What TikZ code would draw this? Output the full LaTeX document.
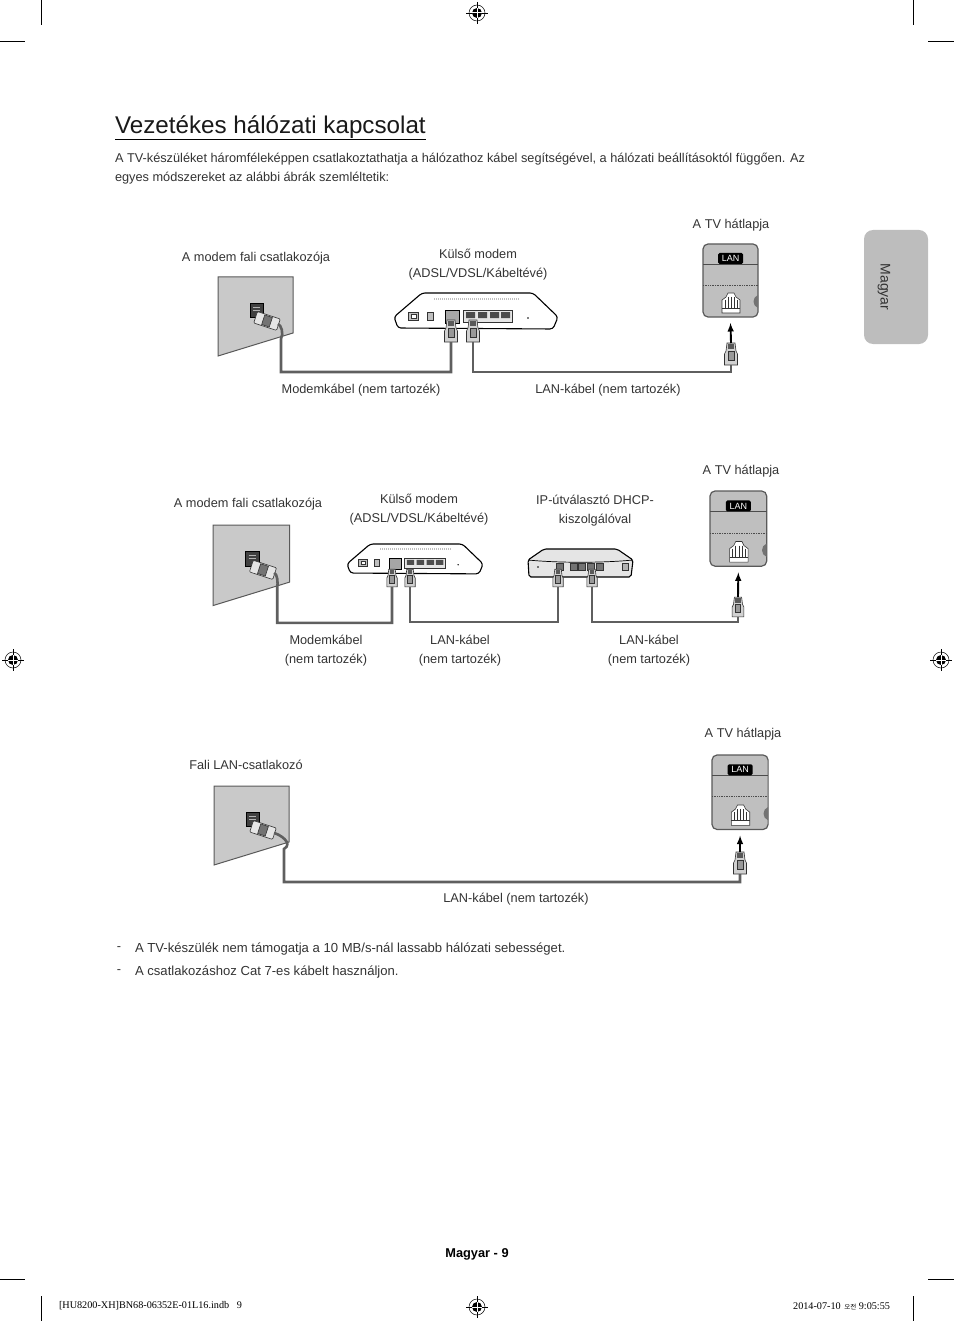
\documentclass[tikz,border=0pt]{standalone}
\usepackage{fontspec}
\setmainfont{Liberation Sans}
\newfontfamily\serifnote{Liberation Serif}
\newfontfamily\cjknote{Noto Sans CJK KR}
\definecolor{inktext}{HTML}{333333}
\definecolor{wallgray}{HTML}{C9C9C9}
\definecolor{cablegray}{HTML}{5F5F5F}
\definecolor{tabgray}{HTML}{BDBDBD}
\definecolor{tvgray}{HTML}{BFBFBF}
\tikzset{
	lbl/.style={inner sep=0pt, outer sep=0pt, text=inktext, align=center, font=\fontsize{12.75}{19}\selectfont},
	notetext/.style={lbl, anchor=west, font=\fontsize{13.1}{19}\selectfont},
	cable/.style={draw=cablegray, line width=2.6pt},
	portline/.style={draw=black!80, line width=0.6pt},
	crop/.style={draw=black, line width=0.8pt},
	pushup/.style={->, >=latex, black, line width=1.9pt},
	% tomada de parede
	wallplate/.pic={
		\draw[draw=black!65, fill=wallgray, line width=1pt] (0,0) -- (75,0) -- (75,56) -- (0,79) -- cycle;
		\draw[fill=black!75, draw=black] (32,26) rectangle (45,40);
		\draw[black!30, line width=0.5pt] (35,30) -- (42,30) (35,33) -- (42,33);
		\draw[portline, fill=black!10, rounded corners=1pt, rotate around={-18:(49,44)}] (37,38) rectangle (61,50);
		\draw[portline, fill=black!55, rotate around={-18:(49,44)}] (45,39) rectangle (53,49);
		\coordinate (-tail) at (60,47);
	},
	% parte de tras da tv
	tvback/.pic={
		\draw[draw=black!65, fill=tvgray, line width=1.2pt, rounded corners=5pt] (0,0) rectangle (55,73);
		\draw[black!70, line width=0.7pt] (0,20) -- (55,20);
		\draw[black!70, line width=0.7pt, densely dotted] (0,41) -- (55,41);
		\node[fill=black, rounded corners=1.5pt, text=white, minimum width=25pt, minimum height=11pt, inner sep=0pt, font=\fontsize{9}{9}\selectfont] (-badge) at (27.5,14.5) {LAN};
		\fill[black!55] (55,51) -- (55,64) .. controls (49,62) and (49,53) .. (55,51);
		\draw[portline, fill=white] (19,62) -- (19,56) -- (23,53) -- (25,49) -- (31,49) -- (33,53) -- (37,56) -- (37,69) -- (19,69) -- cycle;
		\draw[portline] (22,56) -- (22,64) (25,53) -- (25,64) (28,53) -- (28,64) (31,53) -- (31,64) (34,56) -- (34,64) (19,64) -- (37,64);
		\coordinate (-jack) at (27.5,79);
	},
	% conector do cabo
	rjplug/.pic={
		\draw[portline, fill=black!18] (-4,-11) -- (4,-11) -- (5,-3) -- (6.5,0) -- (6.5,11) -- (-6.5,11) -- (-6.5,0) -- (-5,-3) -- cycle;
		\fill[black!65] (-3,-10) rectangle (3,-5);
		\draw[portline, fill=black!40] (-3,-3) rectangle (3,6);
		\coordinate (-head) at (0,-11);
		\coordinate (-tail) at (0,11);
	},
	% modem externo
	modembox/.pic={
		\draw[black, line width=1.1pt, fill=white, rounded corners=3pt] (0,24) -- (28,0) -- (139,0) -- (164,24) -- (159,36) -- (4,35) -- cycle;
		\draw[black!25, line width=2pt, dash pattern=on 1pt off 1pt] (40,6) -- (126,6);
		\draw[portline, fill=black!25] (14,19) rectangle (24,27);
		\draw[portline, fill=white] (17,21) rectangle (22,25);
		\draw[portline, fill=black!25] (33,19) rectangle (39,27);
		\draw[black, line width=0.7pt, fill=black!35] (51,17) rectangle (65,30);
		\draw[portline, fill=black!10] (69,17) rectangle (118,29);
		\fill[black!70] (72,19) rectangle (81,25) (84,19) rectangle (93,25) (96,19) rectangle (105,25) (107,19) rectangle (116,25);
		\fill[black] (134,25) circle (0.9);
	},
	% roteador
	routerbox/.pic={
		\draw[black, line width=1.1pt, fill=black!10, rounded corners=2pt] (0,11) -- (16,0) -- (89,0) -- (105,11) -- (103,28) -- (1,28) -- cycle;
		\draw[black, line width=0.7pt] (0,11) .. controls (30,14) and (75,14) .. (105,11);
		\fill[black] (10,18) circle (0.9);
		\draw[portline, fill=black!55] (28,14) rectangle (35,21);
		\draw[portline, fill=black!55] (42,14) rectangle (49,21) (50,14) rectangle (57,21) (59,14) rectangle (66,21);
		\draw[portline, fill=black!55] (68,14) rectangle (75,21);
		\draw[portline, fill=black!30] (94,14) rectangle (100,21);
	},
	% marca de registro
	regmark/.pic={
		\draw[black, line width=0.5pt] (0,0) circle (8);
		\fill[black] (0,0) circle (5);
		\draw[white, line width=1pt] (-5,0) -- (5,0) (0,-5) -- (0,5);
		\draw[black, line width=0.5pt] (-11,0) -- (-5,0) (5,0) -- (11,0) (0,-11) -- (0,-5) (0,5) -- (0,11);
	}
}
\begin{document}
\begin{tikzpicture}[x=1pt, y=-1pt]
	\useasboundingbox (0,0) rectangle (954,1321);

	%marcas de corte
	\draw[crop] (41,0) -- (41,25) (913,0) -- (913,25) (0,41) -- (25,41) (928,41) -- (954,41);
	\draw[crop] (41,1296) -- (41,1321) (913,1296) -- (913,1321) (0,1279) -- (25,1279) (928,1279) -- (954,1279);
	\pic at (477,13) {regmark};
	\pic at (13,660) {regmark};
	\pic at (941,660) {regmark};
	\pic at (477,1307) {regmark};

	%aba do idioma
	\node[fill=tabgray, rounded corners=9pt, minimum width=64pt, minimum height=114pt, inner sep=0pt] (langtab) at (896,287) {};
	\node[lbl, rotate=-90, font=\fontsize{14}{16}\selectfont] (langname) at (884,287) {Magyar};

	%titulo e texto
	\node[lbl, text=black!90, anchor=base west, font=\fontsize{24.2}{28}\selectfont] (title) at (115,134) {Vezetékes hálózati kapcsolat};
	\draw[black, line width=0.8pt] (title.south west) -- (title.south east);
	\node[lbl, anchor=west, align=left] (intro) at (115,168.5) {A TV-készüléket háromféleképpen csatlakoztathatja a hálózathoz kábel segítségével, a hálózati beállításoktól függően. Az\\egyes módszereket az alábbi ábrák szemléltetik:};

	%rota 1
	\pic (wallA) at (218,277) {wallplate};
	\pic (modemA) at (394,293) {modembox};
	\pic (tvA) at (703,244) {tvback};
	\pic (plugAa) at (451,331) {rjplug};
	\pic (plugAb) at (473,331) {rjplug};
	\pic (plugAc) at (731,354) {rjplug};
	\draw[cable] (wallA-tail) .. controls +(3,1) and +(3,-6) .. ++(3,15) -- ++(0,33) -| (plugAa-tail);
	\draw[cable] (plugAb-tail) -- ++(0,30) -| (plugAc-tail);
	\draw[pushup] (plugAc-head) -- (tvA-jack);
	\node[lbl] (tvlabelA) at (731,225) {A TV hátlapja};
	\node[lbl] (walllabelA) at (256,258) {A modem fali csatlakozója};
	\node[lbl] (modemlabelA) at (478,264.5) {Külső modem\\(ADSL/VDSL/Kábeltévé)};
	\node[lbl] (cablelabelAa) at (361,390) {Modemkábel (nem tartozék)};
	\node[lbl] (cablelabelAb) at (608,390) {LAN-kábel (nem tartozék)};

	%rota 2
	\pic[scale=1.02] (wallB) at (213,525) {wallplate};
	\pic[scale=0.83] (modemB) at (347,544) {modembox};
	\pic (routerB) at (528,549) {routerbox};
	\pic[scale=1.03] (tvB) at (710,491) {tvback};
	\pic[scale=0.8] (plugBa) at (392,578) {rjplug};
	\pic[scale=0.8] (plugBb) at (410,578) {rjplug};
	\pic[scale=0.8] (plugBc) at (558,578) {rjplug};
	\pic[scale=0.8] (plugBd) at (592,578) {rjplug};
	\pic[scale=0.9] (plugBe) at (738,607) {rjplug};
	\draw[cable] (wallB-tail) .. controls +(3,1) and +(1,-6) .. ++(3,15) -- ++(0,35) -| (plugBa-tail);
	\draw[cable] (plugBb-tail) -- ++(0,35) -| (plugBc-tail);
	\draw[cable] (plugBd-tail) -- ++(0,35) -| (plugBe-tail);
	\draw[pushup] (plugBe-head) -- (tvB-jack);
	\node[lbl] (tvlabelB) at (741,471) {A TV hátlapja};
	\node[lbl] (walllabelB) at (248,504) {A modem fali csatlakozója};
	\node[lbl] (modemlabelB) at (419,509.5) {Külső modem\\(ADSL/VDSL/Kábeltévé)};
	\node[lbl] (routerlabelB) at (595,511) {IP-útválasztó DHCP-\\kiszolgálóval};
	\node[lbl] (cablelabelBa) at (326,651) {Modemkábel\\(nem tartozék)};
	\node[lbl] (cablelabelBb) at (460,651) {LAN-kábel\\(nem tartozék)};
	\node[lbl] (cablelabelBc) at (649,651) {LAN-kábel\\(nem tartozék)};

	%rota 3
	\pic (wallC) at (214,786) {wallplate};
	\pic[scale=1.02] (tvC) at (712,755) {tvback};
	\pic (plugCa) at (740,863) {rjplug};
	\draw[cable] (wallC-tail) .. controls +(5,1) and +(10,-6) .. ++(10,16) -- ++(0,33) -| (plugCa-tail);
	\draw[pushup] (plugCa-head) -- (tvC-jack);
	\node[lbl] (tvlabelC) at (743,734) {A TV hátlapja};
	\node[lbl] (walllabelC) at (246,765) {Fali LAN-csatlakozó};
	\node[lbl] (cablelabelC) at (516,899) {LAN-kábel (nem tartozék)};

	%notas
	\node[lbl] (dashA) at (119,949) {-};
	\node[notetext] (noteA) at (135,949) {A TV-készülék nem támogatja a 10 MB/s-nál lassabb hálózati sebességet.};
	\node[lbl] (dashB) at (119,972) {-};
	\node[notetext] (noteB) at (135,972) {A csatlakozáshoz Cat 7-es kábelt használjon.};

	%rodape
	\node[lbl, text=black, font=\bfseries\fontsize{12.8}{15}\selectfont] (pagenum) at (477,1254) {Magyar - 9};
	\node[lbl, text=black, anchor=west, font=\serifnote\fontsize{10.2}{11}\selectfont] (fileinfo) at (59,1306) {[HU8200-XH]BN68-06352E-01L16.indb\hspace{5pt} 9};
	\node[lbl, text=black, anchor=east, font=\serifnote\fontsize{10.2}{11}\selectfont] (dateinfo) at (890,1306) {2014-07-10 \hspace{1pt}{\cjknote\fontsize{6.5}{7}\selectfont 오전} 9:05:55};
\end{tikzpicture}
\end{document}
